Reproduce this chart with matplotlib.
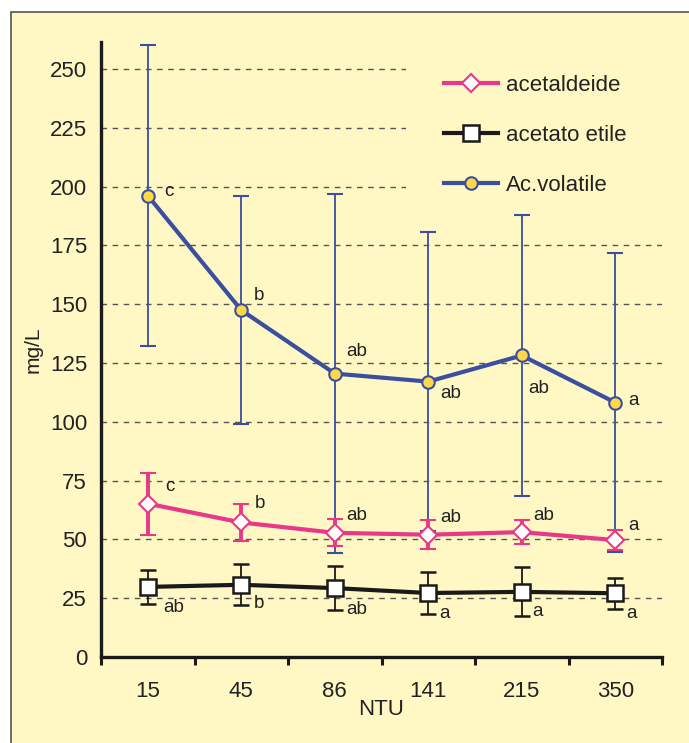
import matplotlib
matplotlib.use("Agg")
import matplotlib.pyplot as plt
from matplotlib.patches import Rectangle
from matplotlib.lines import Line2D

plt.rcParams["font.family"] = ["Liberation Sans", "DejaVu Sans"]

# dati: NTU e concentrazioni medie (mg/L) con deviazione standard
ntu = ["15", "45", "86", "141", "215", "350"]

acetaldeide = [65.2, 57.2, 52.8, 52.0, 53.1, 49.7]
acetaldeide_err = [13.2, 7.9, 5.8, 6.1, 5.0, 4.2]
acetaldeide_lett = ["c", "b", "ab", "ab", "ab", "a"]

acetato = [29.8, 30.7, 29.3, 27.2, 27.7, 27.1]
acetato_err = [7.2, 8.7, 9.3, 9.1, 10.4, 6.6]
acetato_lett = ["ab", "b", "ab", "a", "a", "a"]

volatile = [196.2, 147.5, 120.5, 117.1, 128.2, 108.2]
volatile_err = [64.0, 48.5, 76.3, 63.7, 59.8, 63.4]
volatile_lett = ["c", "b", "ab", "ab", "ab", "a"]

sfondo = "#FFF8C4"
rosa = "#E8388A"
blu = "#3A4FA0"
nero = "#1A1A1A"
testo = "#222222"
giallo = "#FFD84A"

fig = plt.figure(figsize=(6.89, 7.43), dpi=100, facecolor="white")
fig.patches.append(Rectangle((11 / 689, -0.01), 1.0, (731 / 743) + 0.01,
                             transform=fig.transFigure, facecolor=sfondo,
                             edgecolor="#555555", lw=1.2, zorder=-10))

ax = fig.add_axes([101 / 689, 86 / 743, 561 / 689, 615 / 743])
ax.set_facecolor("none")
x = list(range(len(ntu)))

# stile linea + marker di ogni serie
st_vol = dict(color=blu, lw=3, marker="o", ms=9, mfc=giallo, mec=blu, mew=1.5)
st_ald = dict(color=rosa, lw=3, marker="D", ms=9, mfc="white", mec=rosa, mew=1.5)
st_ace = dict(color=nero, lw=3, marker="s", ms=12, mfc="white", mec=nero, mew=1.8)

ax.errorbar(x, volatile, yerr=volatile_err, ecolor=blu, elinewidth=1.3,
            capsize=6, capthick=1.6, zorder=3, **st_vol)
ax.errorbar(x, acetaldeide, yerr=acetaldeide_err, ecolor=rosa, elinewidth=2.8,
            capsize=6, capthick=3, zorder=4, **st_ald)
ax.errorbar(x, acetato, yerr=acetato_err, ecolor=nero, elinewidth=1.3,
            capsize=6, capthick=1.5, zorder=5, **st_ace)

# lettere di significatività
def lettere(valori, lett, offs):
    for i, (v, l) in enumerate(zip(valori, lett)):
        dx, dy = offs[i]
        ax.annotate(l, (i, v), xytext=(dx, dy), textcoords="offset pixels",
                    ha="center", va="center", fontsize=13.5, color=testo, zorder=6)

lettere(volatile, volatile_lett, [(21, 4), (18, 15), (22, 22), (22, -12), (17, -33), (18, 2)])
lettere(acetaldeide, acetaldeide_lett, [(22, 17), (19, 19), (22, 17), (22, 17), (22, 17), (18, 15)])
lettere(acetato, acetato_lett, [(26, -21), (18, -19), (22, -21), (16, -20), (16, -20), (16, -20)])

ax.set_xlim(-0.5, 5.5)
ax.set_ylim(0, 261.5)
ax.set_yticks(range(0, 251, 25))
ax.set_xticks([i - 0.5 for i in range(len(ntu) + 1)])
ax.set_xticklabels([])
ax.set_xticks(x, minor=True)
ax.set_xticklabels(ntu, minor=True)
ax.tick_params(axis="x", which="major", direction="out", length=6, width=2.2, color=nero)
ax.tick_params(axis="x", which="minor", length=0, pad=17, labelsize=16, labelcolor=testo)
ax.tick_params(axis="y", length=0, pad=10, labelsize=16, labelcolor=testo)

for s in ["top", "right"]:
    ax.spines[s].set_visible(False)
for s in ["left", "bottom"]:
    ax.spines[s].set_linewidth(2.4)
    ax.spines[s].set_color(nero)

ax.set_axisbelow(True)
ax.yaxis.grid(True, linestyle=(0, (4, 4)), color="#555555", lw=1)

ax.set_xlabel("NTU", fontsize=16, color=testo, labelpad=-2)
ax.set_ylabel("mg/L", fontsize=15, color=testo, labelpad=5)

maniglie = [Line2D([], [], **st_ald), Line2D([], [], **st_ace), Line2D([], [], **st_vol)]
leg = ax.legend(maniglie, ["acetaldeide", "acetato etile", "Ac.volatile"],
                loc="upper right", bbox_to_anchor=(1.0036, 1.008), fontsize=16,
                frameon=True, facecolor=sfondo, edgecolor="none", framealpha=1,
                handlelength=2.45, handletextpad=0.35, labelspacing=1.3,
                borderpad=1.7, borderaxespad=0)
for t in leg.get_texts():
    t.set_color(testo)
leg.set_zorder(1.5)

fig.savefig("out.png", dpi=100, facecolor="white")
